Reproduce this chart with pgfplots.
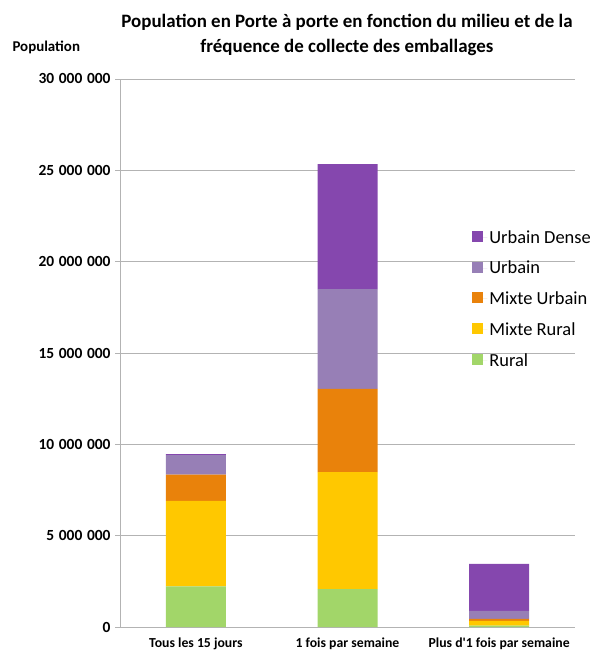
\documentclass[border=0pt]{standalone}
\usepackage{fontspec}
\setmainfont{Carlito}
\newfontfamily\aposfont{Carlito}
\usepackage{pgfplots}
\pgfplotsset{compat=1.18}

\definecolor{cUD}{HTML}{8547AE}
\definecolor{cU}{HTML}{977FB6}
\definecolor{cMU}{HTML}{E9820B}
\definecolor{cMR}{HTML}{FFC800}
\definecolor{cR}{HTML}{A2D669}
\definecolor{gridc}{HTML}{B3B3B3}
\newcommand\yl[3]{\textbf{#1\hspace{0.3em}#2\hspace{0.3em}#3}}

\begin{document}
\begin{tikzpicture}[x=1bp,y=1bp]
\path[use as bounding box] (0,0) rectangle (593,653);
\node[font=\fontsize{19}{24.5}\selectfont\bfseries,align=center] at (347,618)
  {Population en Porte à porte en fonction du milieu et de la\\fréquence de collecte des emballages};
\node[font=\fontsize{15}{17}\selectfont\bfseries,anchor=west] at (9,606) {Population};
\begin{axis}[
  at={(120bp,26bp)},anchor=south west,
  scale only axis,width=455bp,height=548bp,
  ybar stacked,bar width=60bp,
  xmin=-0.5,xmax=2.5,ymin=0,ymax=30000000,
  xtick={0,1,2},
  xticklabels={Tous les 15 jours,1 fois par semaine,Plus d{\aposfont\bfseries '}1 fois par semaine},
  major x tick style={draw=none},
  extra x ticks={-0.5,0.5,1.5,2.5},extra x tick labels={},
  extra x tick style={major tick length=5bp,tick style={draw=gridc,line width=0.8pt},grid=none,tick align=outside},
  ytick={0,5000000,10000000,15000000,20000000,25000000,30000000},
  yticklabels={\textbf{0},\yl{5}{000}{000},\yl{10}{000}{000},\yl{15}{000}{000},\yl{20}{000}{000},\yl{25}{000}{000},\yl{30}{000}{000}},
  ytick style={draw=gridc,line width=0.8pt},major tick length=5bp,tick align=outside,
  ymajorgrids,grid style={draw=gridc,line width=0.8pt},
  axis x line*=bottom,axis y line*=left,
  axis line style={draw=gridc,line width=0.9pt},
  yticklabel style={font=\fontsize{15.5}{17}\selectfont\bfseries,xshift=-1bp},
  xticklabel style={font=\fontsize{13.8}{15}\selectfont\bfseries,yshift=-2bp},
  scaled y ticks=false,
  legend style={at={(0.774,0.728)},anchor=north west,draw=none,fill=none,
    font=\fontsize{18.5}{20}\selectfont,row sep=12.5bp,inner sep=0pt,
    cells={anchor=west}},
  reverse legend,
  legend image code/.code={\path (0bp,0bp) -- (15bp,0bp);\fill[#1] (0bp,-4.5bp) rectangle (11bp,6.5bp);},
]
\addplot[fill=cR,draw=none] coordinates {(0,2230000) (1,2080000) (2,70000)};
\addplot[fill=cMR,draw=none] coordinates {(0,4670000) (1,6400000) (2,270000)};
\addplot[fill=cMU,draw=none] coordinates {(0,1440000) (1,4550000) (2,100000)};
\addplot[fill=cU,draw=none] coordinates {(0,1070000) (1,5470000) (2,440000)};
\addplot[fill=cUD,draw=none] coordinates {(0,60000) (1,6840000) (2,2570000)};
\legend{Rural,Mixte Rural,Mixte Urbain,Urbain,Urbain Dense}
\end{axis}
\end{tikzpicture}
\end{document}
